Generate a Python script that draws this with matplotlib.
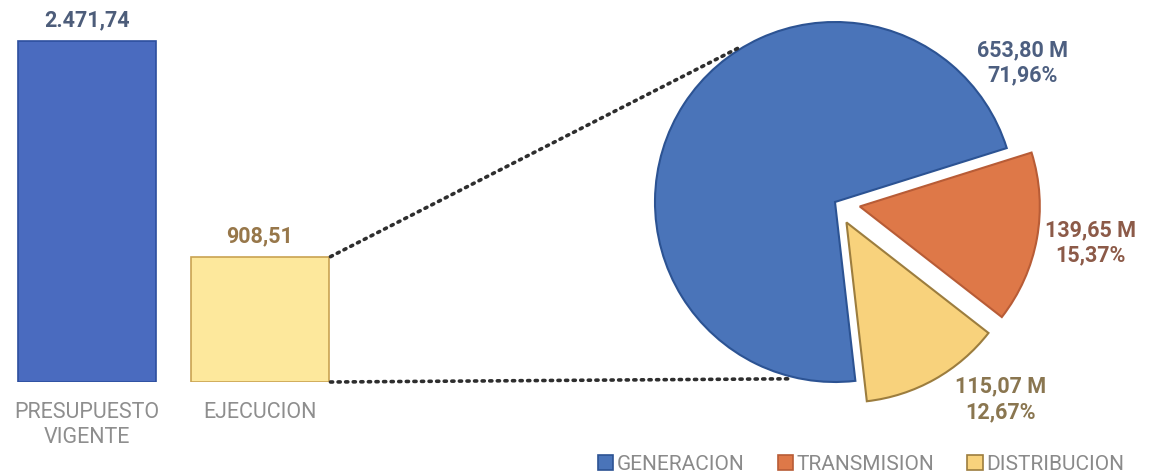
import matplotlib.pyplot as plt
from matplotlib.patches import ConnectionPatch, Rectangle
import numpy as np

plt.rcParams['font.family'] = ['Roboto', 'DejaVu Sans']

# data
bar_labels = ['PRESUPUESTO\nVIGENTE', 'EJECUCION']
bar_values = [2471.74, 908.51]
bar_texts = ['2.471,74', '908,51']

pie_labels = ['GENERACION', 'TRANSMISION', 'DISTRIBUCION']
pie_values = [653.80, 139.65, 115.07]
pie_texts = ['653,80 M\n71,96%', '139,65 M\n15,37%', '115,07 M\n12,67%']

# styles
bar_colors = ['#4a6bbf', '#fde89c']
bar_edges = ['#2d4f9e', '#c9a352']
bar_text_colors = ['#4d5d7a', '#97774a']
pie_colors = ['#4a74b9', '#de7848', '#f8d27c']
pie_edges = ['#2c5393', '#b85c36', '#9c7d3e']
pie_text_colors = ['#4d5f80', '#8c5a48', '#8a7650']

W, H = 1154, 477
fig = plt.figure(figsize=(W / 100, H / 100), dpi=100)

# bar panel
ax = fig.add_axes([1 / W, (H - 383) / H, 345 / W, 372.5 / H])
x = np.arange(len(bar_values))
ax.bar(x, bar_values, width=0.8, color=bar_colors, edgecolor=bar_edges, linewidth=1.2)
for i, v in enumerate(bar_values):
    ax.text(x[i], v + 75, bar_texts[i], ha='center', va='bottom', fontsize=15.5,
            fontweight='bold', color=bar_text_colors[i])
ax.set_xlim(-0.5, 1.5)
ax.set_ylim(0, 2700)
ax.axis('off')
for i, lab in enumerate(bar_labels):
    ax.text(x[i], -140, lab, ha='center', va='top', fontsize=15.5, color='#8e8e8e',
            linespacing=1.2)

# pie panel
r_px = 180
cx, cy = 835, 203
half = 1.4 * r_px
pax = fig.add_axes([(cx - half) / W, (H - cy - half) / H, 2 * half / W, 2 * half / H])
wedges, _ = pax.pie(pie_values, colors=pie_colors, startangle=276.5, counterclock=False,
                    explode=[0, 0.14, 0.13],
                    wedgeprops=dict(linewidth=1.5))
for w, ec in zip(wedges, pie_edges):
    w.set_edgecolor(ec)
pax.set_xlim(-1.4, 1.4)
pax.set_ylim(-1.4, 1.4)
pax.set_aspect('equal')
pax.axis('off')

label_pos = [(1.04, 0.78), (1.42, -0.22), (0.92, -1.09)]
for (lx, ly), t, c in zip(label_pos, pie_texts, pie_text_colors):
    pax.text(lx, ly, t, ha='center', va='center', fontsize=15.5, fontweight='bold',
             color=c, linespacing=1.2, clip_on=False)

# dotted connectors from the EJECUCION bar to the pie
for yb, ang in [(bar_values[1], 122), (0, 256.5)]:
    a = np.deg2rad(ang)
    con = ConnectionPatch(xyA=(1.41, yb), coordsA=ax.transData,
                          xyB=(np.cos(a) * 1.01, np.sin(a) * 1.01), coordsB=pax.transData,
                          linestyle=(0, (0.6, 1.5)), linewidth=2.6, color='#2e2e2e',
                          capstyle='round')
    fig.add_artist(con)

# legend
handles = [Rectangle((0, 0), 1, 1, facecolor=c, edgecolor=e, linewidth=1.2)
           for c, e in zip(pie_colors, pie_edges)]
fig.legend(handles, pie_labels, loc='center', bbox_to_anchor=(861 / W, (H - 465) / H),
           ncol=3, frameon=False, fontsize=15, handlelength=0.75, handleheight=0.75,
           handletextpad=0.15, columnspacing=1.6, labelcolor='#8a8a8a')

fig.savefig('out.png', dpi=100, facecolor='white')
